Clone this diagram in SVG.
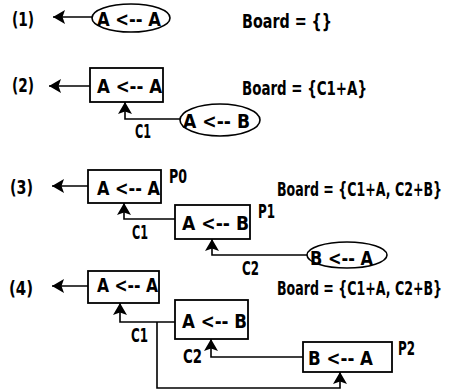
<svg xmlns="http://www.w3.org/2000/svg" width="453" height="391" viewBox="0 0 453 391">
<style>
text{font-family:"Liberation Sans Narrow","DejaVu Sans Condensed","Liberation Sans",sans-serif;font-weight:bold;font-size:20px;fill:#000}
.box{fill:#fff;stroke:#000;stroke-width:1.8}
.ell{fill:#fff;stroke:#000;stroke-width:1.6}
.ln{fill:none;stroke:#000;stroke-width:1.6}
</style>
<defs>
<marker id="ah" markerUnits="userSpaceOnUse" markerWidth="13" markerHeight="14" refX="12" refY="7" orient="auto" viewBox="0 0 13 14">
<path d="M0,0 L12,7 L0,14 L2.5,7 z" fill="#000"/>
</marker>
</defs>
<g id="labels">
<text x="12" y="26" textLength="22" lengthAdjust="spacingAndGlyphs">(1)</text>
<text x="12" y="92" textLength="22" lengthAdjust="spacingAndGlyphs">(2)</text>
<text x="10" y="194" textLength="23" lengthAdjust="spacingAndGlyphs">(3)</text>
<text x="9" y="295" textLength="24" lengthAdjust="spacingAndGlyphs">(4)</text>
<text x="242" y="28" textLength="90" lengthAdjust="spacingAndGlyphs">Board = {}</text>
<text x="242" y="95" textLength="125" lengthAdjust="spacingAndGlyphs">Board = {C1+A}</text>
<text transform="translate(277,196) scale(0.75,1)" x="0" y="0" textLength="220" lengthAdjust="spacingAndGlyphs">Board = {C1+A, C2+B}</text>
<text transform="translate(277,295) scale(0.75,1)" x="0" y="0" textLength="220" lengthAdjust="spacingAndGlyphs">Board = {C1+A, C2+B}</text>
<text x="169" y="183" textLength="18" lengthAdjust="spacingAndGlyphs">P0</text>
<text x="258" y="218" textLength="17" lengthAdjust="spacingAndGlyphs">P1</text>
<text x="398" y="355" textLength="17" lengthAdjust="spacingAndGlyphs">P2</text>
<text x="135" y="138" textLength="16" lengthAdjust="spacingAndGlyphs">C1</text>
<text x="132" y="239" textLength="16" lengthAdjust="spacingAndGlyphs">C1</text>
<text x="242" y="275" textLength="17" lengthAdjust="spacingAndGlyphs">C2</text>
<text x="131" y="342" textLength="17" lengthAdjust="spacingAndGlyphs">C1</text>
<text x="183" y="363" textLength="19" lengthAdjust="spacingAndGlyphs">C2</text>
</g>
<g id="connectors">
<path class="ln" d="M92,17 L53,17" marker-end="url(#ah)"/>
<path class="ln" d="M90,86 L49,86" marker-end="url(#ah)"/>
<path class="ln" d="M180,119 L125,119 L125,102" marker-end="url(#ah)"/>
<path class="ln" d="M88,186 L52,186" marker-end="url(#ah)"/>
<path class="ln" d="M175,219 L124,219 L124,203" marker-end="url(#ah)"/>
<path class="ln" d="M307,255 L212,255 L212,239" marker-end="url(#ah)"/>
<path class="ln" d="M88,286 L52,286" marker-end="url(#ah)"/>
<path class="ln" d="M175,322 L120,322 L120,303" marker-end="url(#ah)"/>
<path class="ln" d="M303,357 L211,357 L211,339" marker-end="url(#ah)"/>
<path class="ln" d="M157,322 L157,388 L340,388 L340,372" marker-end="url(#ah)"/>
</g>
<g id="n1">
<ellipse class="ell" cx="131" cy="18" rx="39" ry="14"/>
<text x="97" y="26" textLength="64" lengthAdjust="spacingAndGlyphs">A &lt;-- A</text>
</g>
<g id="n2a">
<rect class="box" x="90" y="68" width="73" height="34"/>
<text x="97" y="93" textLength="65" lengthAdjust="spacingAndGlyphs">A &lt;-- A</text>
</g>
<g id="n2b">
<ellipse class="ell" cx="220" cy="120" rx="40" ry="16"/>
<text x="183" y="128" textLength="67" lengthAdjust="spacingAndGlyphs">A &lt;-- B</text>
</g>
<g id="n3a">
<rect class="box" x="88" y="170" width="73" height="33"/>
<text x="97" y="195" textLength="63" lengthAdjust="spacingAndGlyphs">A &lt;-- A</text>
</g>
<g id="n3b">
<rect class="box" x="175" y="205" width="75" height="34"/>
<text x="182" y="230" textLength="67" lengthAdjust="spacingAndGlyphs">A &lt;-- B</text>
</g>
<g id="n3c">
<ellipse class="ell" cx="347" cy="255" rx="40" ry="13"/>
<text x="310" y="265" textLength="63" lengthAdjust="spacingAndGlyphs">B &lt;-- A</text>
</g>
<g id="n4a">
<rect class="box" x="88" y="271" width="71" height="32"/>
<text x="97" y="292" textLength="61" lengthAdjust="spacingAndGlyphs">A &lt;-- A</text>
</g>
<g id="n4b">
<rect class="box" x="175" y="300" width="73" height="39"/>
<text x="182" y="328" textLength="65" lengthAdjust="spacingAndGlyphs">A &lt;-- B</text>
</g>
<g id="n4c">
<rect class="box" x="303" y="342" width="89" height="30"/>
<text x="308" y="365" textLength="65" lengthAdjust="spacingAndGlyphs">B &lt;-- A</text>
</g>
</svg>
